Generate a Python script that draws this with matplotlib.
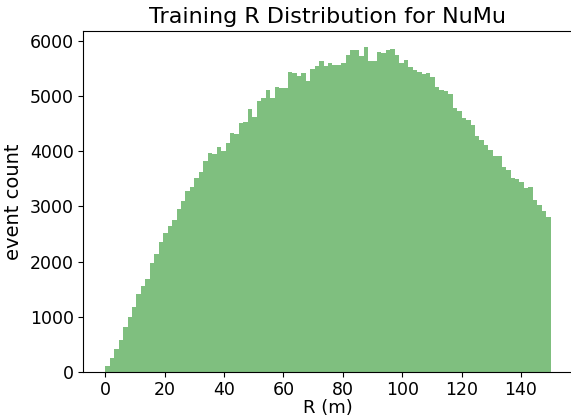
import numpy as np
import matplotlib
matplotlib.use('Agg')
import matplotlib.pyplot as plt

# event counts per 1.5 m bin, R from 0 to 150 m
r_min, r_max, n_bins = 0, 150, 100
counts = np.array([
    100, 262, 418, 572, 811, 1000, 1180, 1405, 1555, 1678,
    1974, 2146, 2352, 2522, 2640, 2752, 2952, 3097, 3276, 3358,
    3521, 3630, 3817, 3969, 3945, 4074, 4008, 4147, 4329, 4310,
    4510, 4528, 4758, 4620, 4912, 4967, 5106, 4970, 5172, 5139,
    5154, 5435, 5411, 5369, 5417, 5269, 5487, 5554, 5632, 5554,
    5593, 5560, 5572, 5602, 5750, 5838, 5844, 5723, 5889, 5641,
    5641, 5798, 5783, 5838, 5856, 5753, 5600, 5660, 5520, 5470,
    5440, 5405, 5427, 5354, 5166, 5118, 5094, 5039, 4785, 4725,
    4604, 4561, 4477, 4283, 4198, 4120, 4029, 3920, 3920, 3714,
    3666, 3521, 3503, 3436, 3333, 3351, 3122, 3025, 2916, 2807,
])

edges = np.linspace(r_min, r_max, n_bins + 1)

fig = plt.figure(figsize=(5.71, 4.17), dpi=100)
ax = fig.add_axes([0.1454, 0.108, 0.858, 0.818])
ax.hist(edges[:-1], bins=edges, weights=counts, color='g', alpha=0.5)
ax.set_title('Training R Distribution for NuMu', fontsize=16)
ax.set_xlabel('R (m)', fontsize=13, labelpad=0)
ax.set_ylabel('event count', fontsize=14, labelpad=5)
ax.tick_params(labelsize=12.5, pad=3)
ax.spines['right'].set_visible(False)
plt.savefig('out.png', dpi=100)
